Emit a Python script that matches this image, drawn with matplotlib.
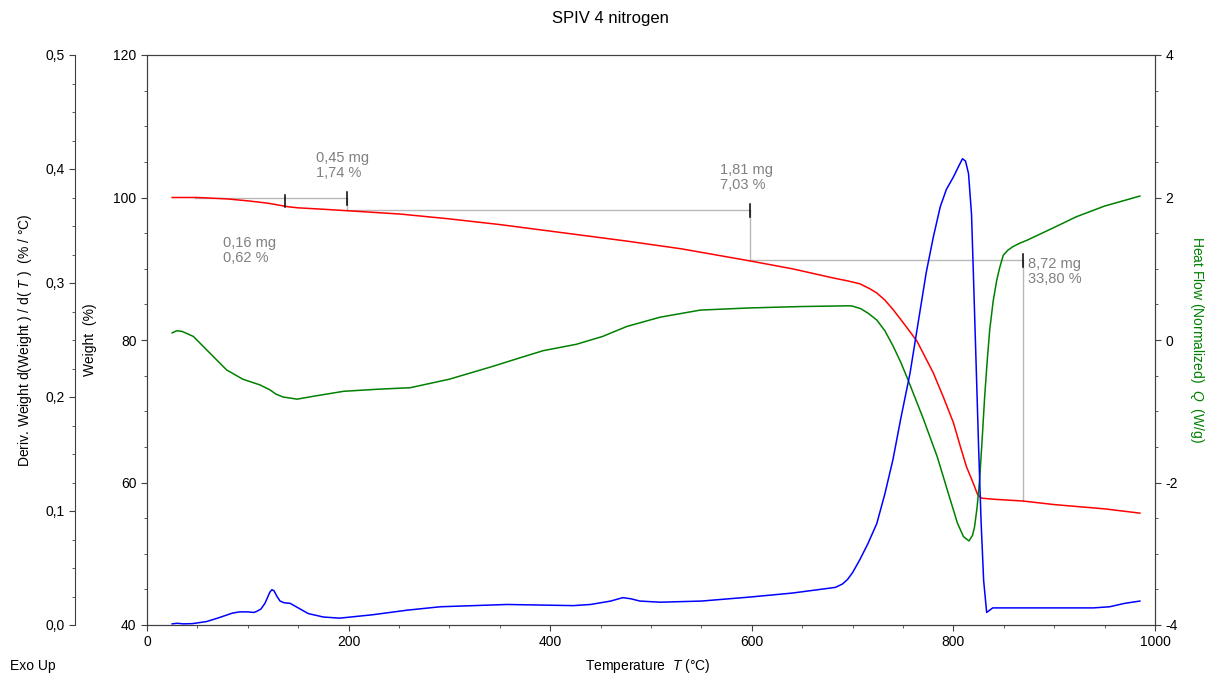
import matplotlib
matplotlib.use("Agg")
import matplotlib.pyplot as plt
from matplotlib.ticker import MultipleLocator, FuncFormatter

plt.rcParams['font.family'] = ['Liberation Sans', 'DejaVu Sans']
plt.rcParams['mathtext.fontset'] = 'custom'
plt.rcParams['mathtext.it'] = 'Liberation Sans:italic'
plt.rcParams['mathtext.rm'] = 'Liberation Sans'
plt.rcParams['axes.unicode_minus'] = False

# weight (%) vs temperature
temp_w = [25, 50, 80, 102, 120, 130, 140, 150, 175, 198, 251, 300, 350, 417, 475,
          530, 597, 640, 681, 695, 707, 717, 724, 732, 740, 752, 764, 780, 790, 800,
          807, 813, 820, 824, 828, 840, 869, 900, 950, 985]
weight = [100.0, 100.0, 99.8, 99.5, 99.2, 98.95, 98.7, 98.55, 98.35, 98.15, 97.68,
          97.0, 96.2, 94.97, 93.9, 92.8, 91.13, 90.0, 88.7, 88.3, 87.9, 87.2, 86.6,
          85.6, 84.3, 82.1, 79.8, 75.4, 72.0, 68.4, 65.0, 62.2, 59.8, 58.3, 57.8,
          57.65, 57.4, 56.9, 56.3, 55.7]

# derivative weight (%/°C)
temp_d = [25, 30, 36, 45, 59, 70, 85, 92, 100, 106, 109, 113, 117, 120, 122, 124,
          126, 129, 132, 136, 142, 148, 154, 160, 175, 191, 224, 258, 291, 357,
          390, 423, 440, 460, 472, 480, 489, 509, 550, 598, 640, 683, 690, 695,
          700, 707, 715, 724, 732, 740, 748, 757, 765, 773, 780, 787, 793, 800,
          805, 809, 812, 815, 818, 820, 822.5, 825, 827.5, 830, 833, 836, 839,
          856, 939, 955, 970, 985]
deriv = [0.001, 0.0015, 0.001, 0.0012, 0.003, 0.006, 0.0105, 0.0115, 0.0115,
         0.011, 0.012, 0.014, 0.019, 0.025, 0.029, 0.031, 0.030, 0.025, 0.021,
         0.0195, 0.019, 0.016, 0.013, 0.010, 0.007, 0.006, 0.009, 0.013, 0.016,
         0.018, 0.0175, 0.017, 0.018, 0.021, 0.024, 0.023, 0.021, 0.020, 0.021,
         0.0245, 0.028, 0.033, 0.036, 0.040, 0.046, 0.057, 0.071, 0.089, 0.115,
         0.145, 0.182, 0.221, 0.265, 0.309, 0.340, 0.367, 0.382, 0.393, 0.402,
         0.409, 0.407, 0.396, 0.360, 0.303, 0.230, 0.156, 0.090, 0.039, 0.011,
         0.013, 0.015, 0.015, 0.015, 0.016, 0.019, 0.021]

# heat flow (W/g)
temp_h = [25, 29.5, 35, 46, 60, 79, 95, 112, 122, 128, 135, 149, 165, 195, 230,
          261, 300, 343, 370, 393, 426, 452, 476, 509, 549, 598, 650, 697, 700,
          708, 716, 724, 732, 740, 748, 755, 770, 784, 796, 804, 810, 815.5, 819,
          821, 823.5, 826, 828.5, 831, 833.5, 836, 839.5, 843, 846, 849.5, 854,
          859, 866, 873, 900, 922, 950, 985]
heat = [0.1, 0.13, 0.12, 0.05, -0.15, -0.42, -0.55, -0.63, -0.70, -0.76, -0.80,
        -0.83, -0.79, -0.72, -0.69, -0.67, -0.55, -0.37, -0.25, -0.15, -0.06, 0.05,
        0.19, 0.32, 0.42, 0.45, 0.47, 0.48, 0.475, 0.44, 0.37, 0.28, 0.13, -0.08,
        -0.32, -0.56, -1.10, -1.64, -2.20, -2.57, -2.76, -2.82, -2.74, -2.62,
        -2.35, -1.96, -1.40, -0.80, -0.30, 0.14, 0.55, 0.84, 1.02, 1.19, 1.26,
        1.31, 1.36, 1.40, 1.58, 1.73, 1.88, 2.02]

# step analysis
step_temps = [48, 198, 598, 869]
step_levels = [100.0, 98.26, 91.23, 57.43]
mark_temps = [137, 198, 598, 869]
mark_levels = [99.5, 99.85, 98.2, 91.15]
step_texts = ["0,16 mg\n0,62 %", "0,45 mg\n1,74 %", "1,81 mg\n7,03 %", "8,72 mg\n33,80 %"]
text_pos = [(75, 94.6), (168, 106.5), (568, 104.9), (874, 91.6)]

fig = plt.figure(figsize=(12.21, 6.75), dpi=100)
ax = fig.add_axes([147 / 1221, 50 / 675, 1008 / 1221, 570 / 675])
ax_h = ax.twinx()
ax_d = ax.twinx()

spine_col = '#404040'
for a in (ax, ax_h, ax_d):
    for s in a.spines.values():
        s.set_color(spine_col)
    a.tick_params(colors=spine_col, labelcolor='black', labelsize=10, direction='out', length=4)
    a.tick_params(which='minor', length=2.5, colors=spine_col)

ax_d.spines['left'].set_position(('axes', -72 / 1008))
ax_d.spines['left'].set_visible(True)
ax_d.spines['right'].set_visible(False)
ax_d.spines['top'].set_visible(False)
ax_d.spines['bottom'].set_visible(False)
ax_d.yaxis.set_ticks_position('left')
ax_d.yaxis.set_label_position('left')

comma = FuncFormatter(lambda v, p: f"{v:.1f}".replace('.', ','))

ax.plot(temp_w, weight, color='#ff0000', lw=1.1, zorder=3)
ax_d.plot(temp_d, deriv, color='#0000ff', lw=1.1)
ax_h.plot(temp_h, heat, color='#008000', lw=1.1)

# step lines
grey = '#b8b8b8'
for i in range(3):
    ax.plot([step_temps[i], step_temps[i + 1]], [step_levels[i]] * 2, color=grey, lw=1)
    ax.plot([step_temps[i + 1]] * 2, [step_levels[i], step_levels[i + 1]], color=grey, lw=1)
for t, lev in zip(mark_temps, mark_levels):
    ax.plot([t, t], [lev + 0.9, lev - 0.9], color='black', lw=1.1, zorder=4)

txt_col = '#808080'
for (tx, ty), s in zip(text_pos, step_texts):
    ax.text(tx, ty, s, color=txt_col, fontsize=10.5, va='top', linespacing=1.1)

ax.set_xlim(0, 1000)
ax.set_ylim(40, 120)
ax_h.set_ylim(-4, 4)
ax_d.set_ylim(0, 0.5)
ax.xaxis.set_major_locator(MultipleLocator(200))
ax.xaxis.set_minor_locator(MultipleLocator(50))
ax.yaxis.set_major_locator(MultipleLocator(20))
ax.yaxis.set_minor_locator(MultipleLocator(5))
ax_h.yaxis.set_major_locator(MultipleLocator(2))
ax_h.yaxis.set_minor_locator(MultipleLocator(0.5))
ax_d.yaxis.set_major_locator(MultipleLocator(0.1))
ax_d.yaxis.set_minor_locator(MultipleLocator(0.025))
ax_d.yaxis.set_major_formatter(comma)

ax.set_ylabel("Weight  (%)", fontsize=10, labelpad=12)
ax_d.set_ylabel(r"Deriv. Weight d(Weight ) / d( $\it{T}$ )  (% / °C)", fontsize=10, labelpad=8)
ax_h.set_ylabel(r"Heat Flow (Normalized)  $\it{Q}$  (W/g)", fontsize=10, color='#008000',
                rotation=-90, labelpad=20)

fig.text(648 / 1221, 1 - 666 / 675, r"Temperature  $\it{T}$ (°C)", ha='center', va='center', fontsize=10)
fig.text(610 / 1221, 1 - 18 / 675, "SPIV 4 nitrogen", ha='center', va='center', fontsize=12)
fig.text(10 / 1221, 1 - 666 / 675, "Exo Up", ha='left', va='center', fontsize=10)

fig.savefig("out.png", dpi=100)
